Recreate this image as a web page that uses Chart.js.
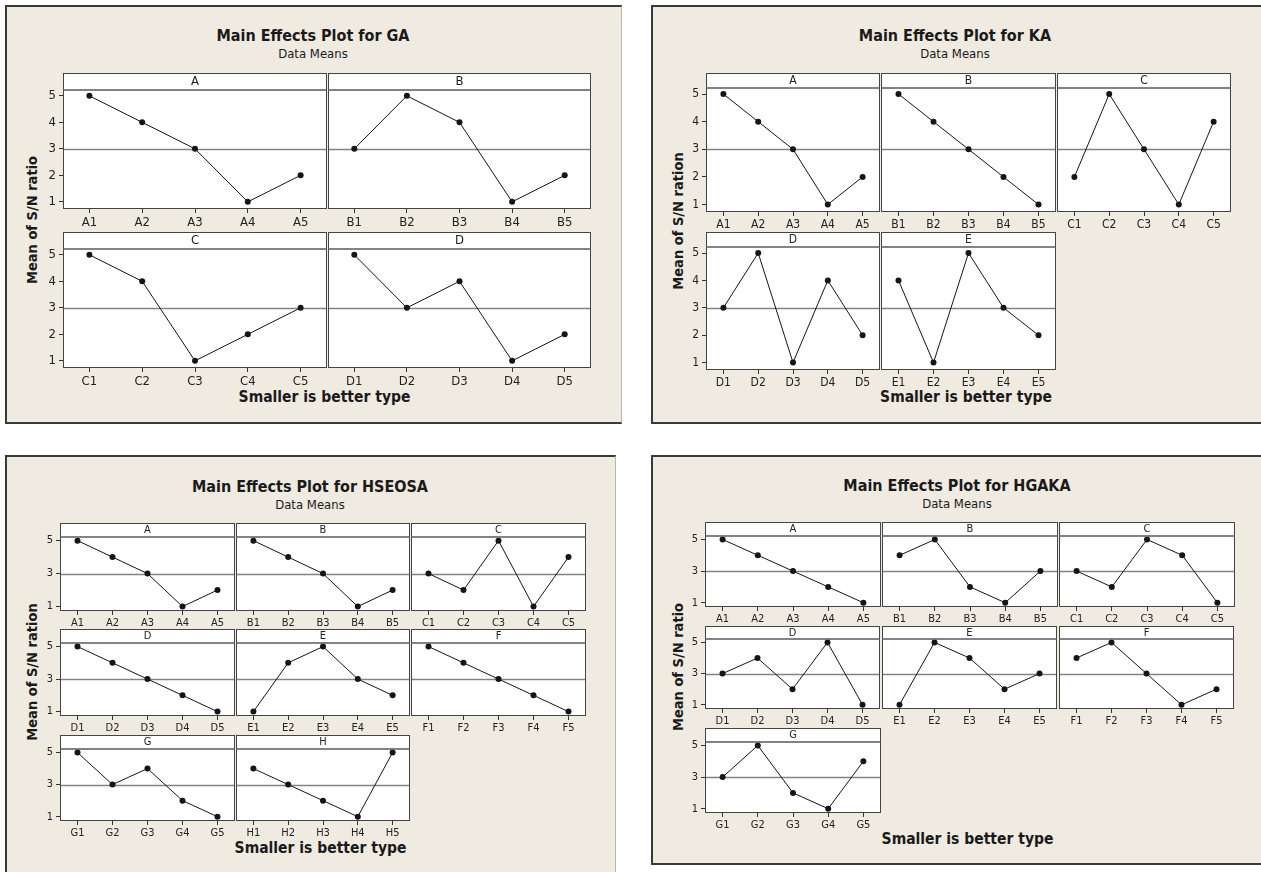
<!DOCTYPE html>
<html>
<head>
<meta charset="utf-8">
<script src="https://cdn.jsdelivr.net/npm/chart.js@4.4.0/dist/chart.umd.min.js"></script>
<style>
body { margin: 0; background: #fff; }
#page { position: relative; width: 1261px; height: 872px; overflow: hidden; font-family: "DejaVu Sans Condensed", "DejaVu Sans", sans-serif; color: #1a1a1a; }
.panel { position: absolute; box-sizing: border-box; background: #efebe1;
  border-top: 2px solid #3a3a3a; border-left: 2px solid #3a3a3a; border-bottom: 2px solid #3a3a3a; border-right: 1px solid #b8b5ad; }
.txt { position: absolute; white-space: nowrap; transform: translate(-50%, -50%); }
.ytitle { position: absolute; white-space: nowrap; font-weight: bold; transform: translate(-50%, -50%) rotate(-90deg); }
canvas { position: absolute; }
</style>
</head>
<body>
<div id="page"></div>
<script>
// level numbers and y ticks
const levels = ['1', '2', '3', '4', '5'];
const yTicksFull = [1, 2, 3, 4, 5];
const yTicksOdd = [1, 3, 5];
const grandMean = 3;

// GA
const gaFactors = ['A', 'B', 'C', 'D'];
const gaMeans = [
    [5, 4, 3, 1, 2],
    [3, 5, 4, 1, 2],
    [5, 4, 1, 2, 3],
    [5, 3, 4, 1, 2]
];

// KA
const kaFactors = ['A', 'B', 'C', 'D', 'E'];
const kaMeans = [
    [5, 4, 3, 1, 2],
    [5, 4, 3, 2, 1],
    [2, 5, 3, 1, 4],
    [3, 5, 1, 4, 2],
    [4, 1, 5, 3, 2]
];

// HSEOSA
const hsFactors = ['A', 'B', 'C', 'D', 'E', 'F', 'G', 'H'];
const hsMeans = [
    [5, 4, 3, 1, 2],
    [5, 4, 3, 1, 2],
    [3, 2, 5, 1, 4],
    [5, 4, 3, 2, 1],
    [1, 4, 5, 3, 2],
    [5, 4, 3, 2, 1],
    [5, 3, 4, 2, 1],
    [4, 3, 2, 1, 5]
];

// HGAKA
const hgFactors = ['A', 'B', 'C', 'D', 'E', 'F', 'G'];
const hgMeans = [
    [5, 4, 3, 2, 1],
    [4, 5, 2, 1, 3],
    [3, 2, 5, 4, 1],
    [3, 4, 2, 5, 1],
    [1, 5, 4, 2, 3],
    [4, 5, 3, 1, 2],
    [3, 5, 2, 1, 4]
];

const FONT = '"DejaVu Sans Condensed", "DejaVu Sans", sans-serif';

// layout of the four panels (rows: strip top, plot top, plot bottom)
const panels = [
    { frame: [5, 5, 617, 419], title: 'Main Effects Plot for GA', titleX: 313, titleY: 35, subY: 53,
      yTitle: 'Mean of S/N ratio', yTitleX: 32, xTitleY: 397,
      gridL: 63, gridR: 592, cols: 2, rows: [[73, 90, 208], [232, 249, 367]],
      factors: gaFactors, means: gaMeans, yTicks: yTicksFull, tickFont: 13, stripFont: 13 },
    { frame: [651, 5, 620, 419], title: 'Main Effects Plot for KA', titleX: 955, titleY: 35, subY: 53,
      yTitle: 'Mean of S/N ration', yTitleX: 678, xTitleY: 397,
      gridL: 706, gridR: 1232, cols: 3, rows: [[73, 88, 211], [232, 247, 369]],
      factors: kaFactors, means: kaMeans, yTicks: yTicksFull, tickFont: 12, stripFont: 12 },
    { frame: [5, 455, 611, 430], title: 'Main Effects Plot for HSEOSA', titleX: 310, titleY: 486, subY: 504,
      yTitle: 'Mean of S/N ration', yTitleX: 32, xTitleY: 848,
      gridL: 60, gridR: 587, cols: 3, rows: [[523, 537, 610], [629, 643, 715], [735, 749, 820]],
      factors: hsFactors, means: hsMeans, yTicks: yTicksOdd, tickFont: 11, stripFont: 11 },
    { frame: [651, 455, 620, 410], title: 'Main Effects Plot for HGAKA', titleX: 957, titleY: 485, subY: 503,
      yTitle: 'Mean of S/N ratio', yTitleX: 678, xTitleY: 839,
      gridL: 705, gridR: 1236, cols: 3, rows: [[522, 536, 606], [626, 639, 708], [728, 742, 812]],
      factors: hgFactors, means: hgMeans, yTicks: yTicksOdd, tickFont: 11, stripFont: 11 }
];

const page = document.getElementById('page');

function addText(txt, x, y, css, cls) {
    const d = document.createElement('div');
    d.className = cls || 'txt';
    d.textContent = txt;
    d.style.left = x + 'px';
    d.style.top = y + 'px';
    Object.assign(d.style, css);
    page.appendChild(d);
}

// white plot box, strip header, grand mean line
const framePlugin = {
    id: 'panelFrame',
    beforeDraw(chart, args, o) {
        const { ctx, chartArea: a } = chart;
        ctx.save();
        ctx.fillStyle = '#fff';
        ctx.fillRect(a.left, 0, a.width, a.bottom);
        ctx.restore();
    },
    beforeDatasetsDraw(chart, args, o) {
        const { ctx, chartArea: a } = chart;
        const y = Math.round(chart.scales.y.getPixelForValue(o.mean)) + 0.5;
        ctx.save();
        ctx.strokeStyle = '#838383';
        ctx.lineWidth = 1.3;
        ctx.beginPath();
        ctx.moveTo(a.left, y);
        ctx.lineTo(a.right, y);
        ctx.stroke();
        ctx.restore();
    },
    afterDraw(chart, args, o) {
        const { ctx, chartArea: a } = chart;
        ctx.save();
        ctx.strokeStyle = '#444';
        ctx.lineWidth = 1;
        ctx.strokeRect(a.left + 0.5, 0.5, a.width - 1, a.bottom - 1);
        ctx.strokeStyle = '#5a5a5a';
        ctx.lineWidth = 1.6;
        ctx.beginPath();
        ctx.moveTo(a.left, a.top);
        ctx.lineTo(a.right, a.top);
        ctx.stroke();
        ctx.fillStyle = '#222';
        ctx.font = o.fontSize + 'px ' + FONT;
        ctx.textAlign = 'center';
        ctx.textBaseline = 'middle';
        ctx.fillText(o.label, (a.left + a.right) / 2, a.top / 2 + 0.5);
        ctx.restore();
    }
};

panels.forEach(p => {
    const [fx, fy, fw, fh] = p.frame;
    const fr = document.createElement('div');
    fr.className = 'panel';
    Object.assign(fr.style, { left: fx + 'px', top: fy + 'px', width: fw + 'px', height: fh + 'px' });
    page.appendChild(fr);

    addText(p.title, p.titleX, p.titleY, { fontWeight: 'bold', fontSize: '16px' });
    addText('Data Means', p.titleX, p.subY, { fontSize: '13px' });
    addText('Smaller is better type', (p.gridL + p.gridR) / 2 - 3, p.xTitleY, { fontWeight: 'bold', fontSize: '15.5px' });
    addText(p.yTitle, p.yTitleX, (p.rows[0][0] + p.rows[p.rows.length - 1][2]) / 2, { fontSize: '14.5px' }, 'ytitle');

    const colW = (p.gridR - p.gridL) / p.cols;
    const padL = 40, padR = 2, xH = 24;

    p.factors.forEach((f, i) => {
        const col = i % p.cols, row = Math.floor(i / p.cols);
        const [sTop, pTop, pBot] = p.rows[row];
        const stripH = pTop - sTop;
        const left = Math.round(p.gridL + col * colW);
        const right = Math.round(p.gridL + (col + 1) * colW);
        const w = padL + (right - left) + 1 + padR;
        const h = (pBot - sTop) + 1 + xH;

        const cv = document.createElement('canvas');
        cv.width = w;
        cv.height = h;
        cv.style.left = (left - padL) + 'px';
        cv.style.top = sTop + 'px';
        page.appendChild(cv);

        const showY = col === 0;
        const ch = new Chart(cv, {
            type: 'line',
            data: {
                labels: levels.map(l => f + l),
                datasets: [{
                    data: p.means[i],
                    borderColor: '#151515',
                    borderWidth: 1,
                    pointRadius: 3,
                    pointBackgroundColor: '#151515',
                    pointBorderWidth: 0,
                    tension: 0
                }]
            },
            options: {
                responsive: false,
                animation: false,
                events: [],
                layout: { padding: { top: stripH, right: padR, left: 0, bottom: 0 } },
                plugins: {
                    legend: { display: false },
                    tooltip: { enabled: false },
                    panelFrame: { label: f, fontSize: p.stripFont, mean: grandMean }
                },
                scales: {
                    x: {
                        type: 'category',
                        offset: true,
                        border: { display: false },
                        grid: { drawOnChartArea: false, drawTicks: true, tickLength: 4, color: '#333' },
                        ticks: { color: '#222', padding: 2, maxRotation: 0, autoSkip: false, font: { size: p.tickFont, family: FONT } },
                        afterFit: s => { s.height = xH; }
                    },
                    y: {
                        min: 0.73,
                        max: 5.22,
                        border: { display: false },
                        grid: { display: showY, drawOnChartArea: false, drawTicks: true, tickLength: 4, color: '#333' },
                        ticks: { display: showY, color: '#222', padding: 3, font: { size: p.tickFont, family: FONT } },
                        afterBuildTicks: s => { s.ticks = p.yTicks.map(v => ({ value: v })); },
                        afterFit: s => { s.width = padL; }
                    }
                }
            },
            plugins: [framePlugin]
        });
        // the layout keeps a couple of pixels on the right; widen so neighbouring boxes share one edge
        const diff = (padL + (right - left) + 1) - ch.chartArea.right;
        if (diff !== 0) {
            ch.resize(w + diff, h);
        }
    });
});
</script>
</body>
</html>
